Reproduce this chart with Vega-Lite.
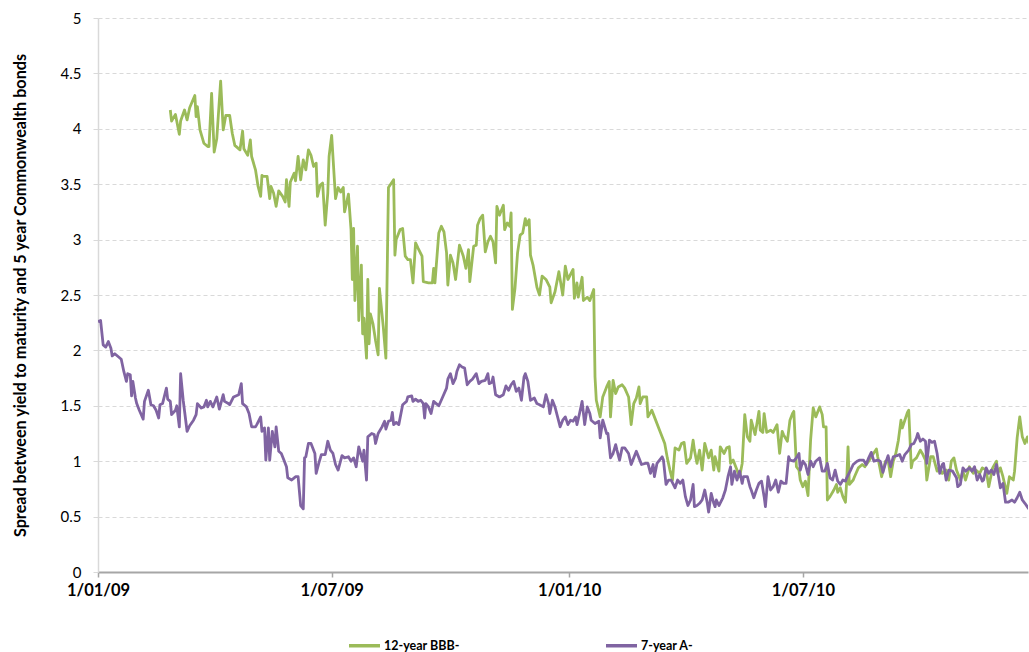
{
  "$schema": "https://vega.github.io/schema/vega-lite/v6.json",
  "width": 930,
  "height": 554,
  "autosize": {"type": "none"},
  "padding": {"left": 98, "top": 18, "right": 1, "bottom": 80},
  "background": "white",
  "config": {"view": {"stroke": null}, "font": "Lato"},
  "encoding": {
    "x": {
      "field": "d", "type": "temporal",
      "scale": {"type": "utc", "domain": [1230768000000, 1293010560000]},
      "axis": {
        "title": null,
        "values": [1230768000000, 1246406400000, 1262304000000, 1277942400000],
        "labelExpr": "utcFormat(datum.value, '%-d/%m/%y')",
        "labelFont": "Lato", "labelFontSize": 16.5, "labelFontWeight": "bold", "labelColor": "#000",
        "labelPadding": 5, "labelFlush": false, "labelOverlap": false,
        "tickSize": 5, "tickColor": "#a6a6a6", "tickWidth": 1.5,
        "domainColor": "#a6a6a6", "domainWidth": 2, "grid": false
      }
    },
    "y": {
      "field": "v", "type": "quantitative",
      "scale": {"domain": [0, 5], "nice": false, "zero": true},
      "axis": {
        "title": "Spread between yield to maturity and 5 year Commonwealth bonds",
        "titleFont": "Lato", "titleFontSize": 16.2, "titleFontWeight": "bold", "titleColor": "#000",
        "titlePadding": 32,
        "values": [0, 0.5, 1, 1.5, 2, 2.5, 3, 3.5, 4, 4.5, 5],
        "format": "~g",
        "labelFont": "Lato", "labelFontSize": 15, "labelColor": "#000", "labelPadding": 12,
        "tickSize": 5, "tickColor": "#d9d9d9",
        "domainColor": "#d9d9d9", "domainWidth": 1.5,
        "grid": true, "gridColor": "#d9d9d9", "gridDash": [4, 3], "gridWidth": 1
      }
    }
  },
  "layer": [
    {
      "data": {"values": [
        {"d":"2009-02-26","v":4.17},{"d":"2009-02-27","v":4.07},{"d":"2009-03-02","v":4.13},{"d":"2009-03-05","v":3.95},{"d":"2009-03-06","v":4.07},{"d":"2009-03-09","v":4.17},{"d":"2009-03-11","v":4.08},{"d":"2009-03-13","v":4.19},{"d":"2009-03-17","v":4.30},{"d":"2009-03-18","v":4.11},{"d":"2009-03-19","v":4.20},{"d":"2009-03-21","v":3.99},{"d":"2009-03-24","v":3.87},{"d":"2009-03-27","v":3.84},{"d":"2009-03-28","v":3.84},{"d":"2009-03-30","v":4.32},{"d":"2009-04-01","v":3.79},{"d":"2009-04-03","v":3.91},{"d":"2009-04-06","v":4.43},{"d":"2009-04-08","v":3.99},{"d":"2009-04-10","v":4.12},{"d":"2009-04-13","v":4.12},{"d":"2009-04-15","v":3.96},{"d":"2009-04-17","v":3.85},{"d":"2009-04-21","v":3.81},{"d":"2009-04-23","v":3.98},{"d":"2009-04-24","v":3.82},{"d":"2009-04-27","v":3.76},{"d":"2009-04-29","v":3.90},{"d":"2009-04-30","v":3.75},{"d":"2009-05-03","v":3.63},{"d":"2009-05-05","v":3.48},{"d":"2009-05-07","v":3.39},{"d":"2009-05-08","v":3.58},{"d":"2009-05-09","v":3.57},{"d":"2009-05-12","v":3.57},{"d":"2009-05-14","v":3.37},{"d":"2009-05-15","v":3.48},{"d":"2009-05-17","v":3.42},{"d":"2009-05-19","v":3.30},{"d":"2009-05-21","v":3.44},{"d":"2009-05-24","v":3.39},{"d":"2009-05-26","v":3.34},{"d":"2009-05-27","v":3.54},{"d":"2009-05-29","v":3.30},{"d":"2009-05-30","v":3.52},{"d":"2009-06-02","v":3.60},{"d":"2009-06-03","v":3.53},{"d":"2009-06-05","v":3.75},{"d":"2009-06-07","v":3.54},{"d":"2009-06-09","v":3.72},{"d":"2009-06-11","v":3.63},{"d":"2009-06-13","v":3.81},{"d":"2009-06-15","v":3.76},{"d":"2009-06-17","v":3.66},{"d":"2009-06-19","v":3.69},{"d":"2009-06-20","v":3.39},{"d":"2009-06-22","v":3.49},{"d":"2009-06-24","v":3.51},{"d":"2009-06-26","v":3.13},{"d":"2009-06-28","v":3.42},{"d":"2009-06-29","v":3.75},{"d":"2009-07-01","v":3.94},{"d":"2009-07-04","v":3.37},{"d":"2009-07-06","v":3.47},{"d":"2009-07-08","v":3.43},{"d":"2009-07-10","v":3.47},{"d":"2009-07-11","v":3.25},{"d":"2009-07-14","v":3.41},{"d":"2009-07-16","v":3.09},{"d":"2009-07-17","v":2.64},{"d":"2009-07-18","v":3.10},{"d":"2009-07-19","v":2.45},{"d":"2009-07-21","v":2.94},{"d":"2009-07-22","v":2.27},{"d":"2009-07-24","v":2.77},{"d":"2009-07-25","v":2.15},{"d":"2009-07-26","v":2.29},{"d":"2009-07-28","v":1.93},{"d":"2009-07-29","v":2.64},{"d":"2009-07-30","v":2.06},{"d":"2009-07-31","v":2.33},{"d":"2009-08-02","v":2.24},{"d":"2009-08-04","v":2.09},{"d":"2009-08-06","v":1.96},{"d":"2009-08-07","v":2.56},{"d":"2009-08-10","v":2.21},{"d":"2009-08-12","v":1.93},{"d":"2009-08-14","v":3.47},{"d":"2009-08-18","v":3.54},{"d":"2009-08-19","v":2.86},{"d":"2009-08-20","v":3.00},{"d":"2009-08-23","v":3.09},{"d":"2009-08-25","v":3.10},{"d":"2009-08-27","v":2.85},{"d":"2009-08-29","v":2.82},{"d":"2009-08-31","v":2.82},{"d":"2009-09-02","v":2.61},{"d":"2009-09-04","v":2.97},{"d":"2009-09-06","v":2.92},{"d":"2009-09-09","v":2.85},{"d":"2009-09-10","v":2.62},{"d":"2009-09-14","v":2.61},{"d":"2009-09-17","v":2.61},{"d":"2009-09-18","v":2.74},{"d":"2009-09-19","v":2.61},{"d":"2009-09-22","v":3.06},{"d":"2009-09-24","v":3.12},{"d":"2009-09-26","v":3.07},{"d":"2009-09-28","v":2.88},{"d":"2009-09-29","v":2.59},{"d":"2009-10-01","v":2.86},{"d":"2009-10-03","v":2.79},{"d":"2009-10-05","v":2.64},{"d":"2009-10-08","v":2.95},{"d":"2009-10-11","v":2.85},{"d":"2009-10-13","v":2.74},{"d":"2009-10-15","v":2.91},{"d":"2009-10-16","v":2.62},{"d":"2009-10-19","v":2.94},{"d":"2009-10-21","v":2.95},{"d":"2009-10-22","v":3.13},{"d":"2009-10-24","v":3.19},{"d":"2009-10-26","v":3.22},{"d":"2009-10-28","v":2.89},{"d":"2009-10-30","v":2.98},{"d":"2009-11-01","v":3.03},{"d":"2009-11-03","v":2.98},{"d":"2009-11-05","v":2.79},{"d":"2009-11-06","v":3.30},{"d":"2009-11-08","v":3.22},{"d":"2009-11-11","v":3.31},{"d":"2009-11-12","v":3.09},{"d":"2009-11-14","v":3.15},{"d":"2009-11-16","v":3.12},{"d":"2009-11-17","v":3.24},{"d":"2009-11-18","v":2.37},{"d":"2009-11-20","v":2.56},{"d":"2009-11-22","v":2.88},{"d":"2009-11-24","v":3.04},{"d":"2009-11-26","v":3.06},{"d":"2009-11-28","v":3.19},{"d":"2009-11-29","v":3.13},{"d":"2009-12-01","v":3.18},{"d":"2009-12-02","v":2.86},{"d":"2009-12-04","v":2.77},{"d":"2009-12-07","v":2.57},{"d":"2009-12-09","v":2.50},{"d":"2009-12-11","v":2.67},{"d":"2009-12-14","v":2.64},{"d":"2009-12-17","v":2.57},{"d":"2009-12-18","v":2.43},{"d":"2009-12-21","v":2.53},{"d":"2009-12-24","v":2.71},{"d":"2009-12-27","v":2.50},{"d":"2009-12-29","v":2.76},{"d":"2009-12-31","v":2.64},{"d":"2010-01-04","v":2.73},{"d":"2010-01-05","v":2.47},{"d":"2010-01-07","v":2.61},{"d":"2010-01-08","v":2.48},{"d":"2010-01-11","v":2.66},{"d":"2010-01-12","v":2.45},{"d":"2010-01-15","v":2.48},{"d":"2010-01-17","v":2.45},{"d":"2010-01-20","v":2.55},{"d":"2010-01-21","v":1.76},{"d":"2010-01-22","v":1.55},{"d":"2010-01-25","v":1.40},{"d":"2010-01-27","v":1.58},{"d":"2010-01-30","v":1.67},{"d":"2010-02-01","v":1.72},{"d":"2010-02-02","v":1.40},{"d":"2010-02-04","v":1.73},{"d":"2010-02-06","v":1.61},{"d":"2010-02-08","v":1.67},{"d":"2010-02-11","v":1.69},{"d":"2010-02-13","v":1.66},{"d":"2010-02-16","v":1.58},{"d":"2010-02-18","v":1.33},{"d":"2010-02-20","v":1.52},{"d":"2010-02-22","v":1.57},{"d":"2010-02-24","v":1.67},{"d":"2010-02-25","v":1.52},{"d":"2010-02-27","v":1.58},{"d":"2010-03-02","v":1.58},{"d":"2010-03-03","v":1.40},{"d":"2010-03-06","v":1.46},{"d":"2010-03-08","v":1.40},{"d":"2010-03-12","v":1.28},{"d":"2010-03-16","v":1.16},{"d":"2010-03-18","v":1.03},{"d":"2010-03-20","v":0.92},{"d":"2010-03-22","v":0.83},{"d":"2010-03-24","v":1.12},{"d":"2010-03-27","v":1.10},{"d":"2010-03-29","v":1.16},{"d":"2010-03-31","v":1.17},{"d":"2010-04-02","v":0.98},{"d":"2010-04-05","v":1.03},{"d":"2010-04-07","v":1.19},{"d":"2010-04-08","v":1.10},{"d":"2010-04-10","v":0.98},{"d":"2010-04-12","v":1.10},{"d":"2010-04-14","v":0.92},{"d":"2010-04-16","v":1.16},{"d":"2010-04-19","v":1.03},{"d":"2010-04-21","v":1.10},{"d":"2010-04-23","v":0.92},{"d":"2010-04-24","v":1.04},{"d":"2010-04-27","v":0.91},{"d":"2010-04-28","v":1.13},{"d":"2010-05-01","v":1.07},{"d":"2010-05-03","v":1.12},{"d":"2010-05-05","v":1.13},{"d":"2010-05-06","v":0.98},{"d":"2010-05-08","v":1.01},{"d":"2010-05-10","v":0.95},{"d":"2010-05-12","v":0.89},{"d":"2010-05-13","v":0.86},{"d":"2010-05-15","v":0.98},{"d":"2010-05-17","v":1.42},{"d":"2010-05-19","v":1.22},{"d":"2010-05-21","v":1.18},{"d":"2010-05-22","v":1.37},{"d":"2010-05-25","v":1.24},{"d":"2010-05-28","v":1.45},{"d":"2010-05-29","v":1.28},{"d":"2010-05-31","v":1.26},{"d":"2010-06-01","v":1.43},{"d":"2010-06-03","v":1.26},{"d":"2010-06-06","v":1.28},{"d":"2010-06-08","v":1.26},{"d":"2010-06-11","v":1.33},{"d":"2010-06-13","v":1.07},{"d":"2010-06-15","v":1.27},{"d":"2010-06-16","v":1.24},{"d":"2010-06-19","v":1.18},{"d":"2010-06-21","v":1.37},{"d":"2010-06-23","v":1.43},{"d":"2010-06-24","v":1.45},{"d":"2010-06-26","v":0.95},{"d":"2010-06-28","v":0.92},{"d":"2010-06-29","v":0.83},{"d":"2010-07-01","v":0.77},{"d":"2010-07-03","v":0.82},{"d":"2010-07-05","v":0.69},{"d":"2010-07-07","v":1.19},{"d":"2010-07-09","v":1.48},{"d":"2010-07-11","v":1.40},{"d":"2010-07-14","v":1.49},{"d":"2010-07-16","v":1.42},{"d":"2010-07-17","v":1.31},{"d":"2010-07-19","v":1.31},{"d":"2010-07-20","v":0.65},{"d":"2010-07-22","v":0.68},{"d":"2010-07-25","v":0.74},{"d":"2010-07-27","v":0.79},{"d":"2010-07-28","v":0.72},{"d":"2010-07-30","v":0.76},{"d":"2010-08-01","v":0.68},{"d":"2010-08-03","v":0.63},{"d":"2010-08-04","v":0.83},{"d":"2010-08-05","v":1.13},{"d":"2010-08-06","v":0.79},{"d":"2010-08-09","v":0.83},{"d":"2010-08-10","v":0.86},{"d":"2010-08-13","v":0.94},{"d":"2010-08-16","v":0.97},{"d":"2010-08-18","v":0.95},{"d":"2010-08-21","v":1.00},{"d":"2010-08-23","v":1.04},{"d":"2010-08-27","v":1.11},{"d":"2010-08-28","v":1.04},{"d":"2010-08-31","v":0.86},{"d":"2010-09-03","v":1.00},{"d":"2010-09-05","v":1.01},{"d":"2010-09-07","v":0.86},{"d":"2010-09-09","v":1.00},{"d":"2010-09-11","v":1.07},{"d":"2010-09-13","v":1.19},{"d":"2010-09-15","v":1.37},{"d":"2010-09-16","v":1.30},{"d":"2010-09-18","v":1.37},{"d":"2010-09-20","v":1.44},{"d":"2010-09-21","v":1.46},{"d":"2010-09-23","v":0.94},{"d":"2010-09-24","v":1.00},{"d":"2010-09-27","v":1.03},{"d":"2010-09-30","v":1.10},{"d":"2010-10-02","v":1.06},{"d":"2010-10-04","v":1.01},{"d":"2010-10-05","v":0.83},{"d":"2010-10-08","v":1.04},{"d":"2010-10-10","v":1.04},{"d":"2010-10-13","v":0.91},{"d":"2010-10-15","v":0.95},{"d":"2010-10-17","v":0.89},{"d":"2010-10-20","v":0.92},{"d":"2010-10-22","v":0.83},{"d":"2010-10-24","v":1.00},{"d":"2010-10-26","v":1.03},{"d":"2010-10-28","v":0.92},{"d":"2010-10-31","v":0.83},{"d":"2010-11-02","v":0.91},{"d":"2010-11-04","v":0.83},{"d":"2010-11-07","v":0.95},{"d":"2010-11-10","v":0.89},{"d":"2010-11-12","v":0.92},{"d":"2010-11-15","v":0.89},{"d":"2010-11-17","v":0.94},{"d":"2010-11-20","v":0.92},{"d":"2010-11-22","v":0.77},{"d":"2010-11-25","v":0.94},{"d":"2010-11-28","v":1.00},{"d":"2010-11-29","v":0.89},{"d":"2010-12-01","v":0.94},{"d":"2010-12-03","v":0.86},{"d":"2010-12-06","v":0.71},{"d":"2010-12-08","v":0.86},{"d":"2010-12-11","v":0.83},{"d":"2010-12-12","v":0.91},{"d":"2010-12-14","v":1.21},{"d":"2010-12-16","v":1.40},{"d":"2010-12-18","v":1.22},{"d":"2010-12-20","v":1.16},{"d":"2010-12-22","v":1.22},{"d":"2010-12-23","v":1.16}
      ]},
      "mark": {"type": "line", "strokeWidth": 2.8, "clip": true, "strokeJoin": "round"},
      "encoding": {
        "color": {
          "datum": "12-year BBB-", "type": "nominal",
          "scale": {"domain": ["12-year BBB-", "7-year A-"], "range": ["#9BBB59", "#8064A2"]},
          "legend": {
            "title": null, "orient": "none", "legendX": 249, "legendY": 610, "direction": "horizontal",
            "padding": 0, "symbolType": "stroke", "symbolStrokeWidth": 3.5, "symbolSize": 961,
            "labelFont": "Lato", "labelFontSize": 12.5, "labelFontWeight": "bold", "labelColor": "#000",
            "labelOffset": 2, "columnPadding": 139
          }
        }
      }
    },
    {
      "data": {"values": [
        {"d":"2009-01-01","v":2.26},{"d":"2009-01-03","v":2.27},{"d":"2009-01-05","v":2.05},{"d":"2009-01-07","v":2.03},{"d":"2009-01-09","v":2.08},{"d":"2009-01-11","v":2.02},{"d":"2009-01-12","v":1.95},{"d":"2009-01-14","v":1.97},{"d":"2009-01-17","v":1.94},{"d":"2009-01-19","v":1.92},{"d":"2009-01-21","v":1.81},{"d":"2009-01-23","v":1.72},{"d":"2009-01-24","v":1.79},{"d":"2009-01-26","v":1.78},{"d":"2009-01-27","v":1.59},{"d":"2009-01-28","v":1.72},{"d":"2009-01-30","v":1.57},{"d":"2009-01-31","v":1.52},{"d":"2009-02-02","v":1.46},{"d":"2009-02-05","v":1.38},{"d":"2009-02-06","v":1.54},{"d":"2009-02-09","v":1.64},{"d":"2009-02-11","v":1.51},{"d":"2009-02-13","v":1.50},{"d":"2009-02-15","v":1.46},{"d":"2009-02-17","v":1.39},{"d":"2009-02-18","v":1.51},{"d":"2009-02-20","v":1.52},{"d":"2009-02-23","v":1.66},{"d":"2009-02-24","v":1.56},{"d":"2009-02-26","v":1.54},{"d":"2009-02-27","v":1.42},{"d":"2009-03-02","v":1.46},{"d":"2009-03-03","v":1.50},{"d":"2009-03-05","v":1.31},{"d":"2009-03-06","v":1.79},{"d":"2009-03-08","v":1.55},{"d":"2009-03-11","v":1.27},{"d":"2009-03-13","v":1.32},{"d":"2009-03-16","v":1.37},{"d":"2009-03-18","v":1.42},{"d":"2009-03-19","v":1.52},{"d":"2009-03-22","v":1.48},{"d":"2009-03-24","v":1.49},{"d":"2009-03-26","v":1.55},{"d":"2009-03-27","v":1.49},{"d":"2009-03-29","v":1.54},{"d":"2009-03-31","v":1.49},{"d":"2009-04-03","v":1.58},{"d":"2009-04-05","v":1.47},{"d":"2009-04-08","v":1.60},{"d":"2009-04-09","v":1.54},{"d":"2009-04-12","v":1.52},{"d":"2009-04-13","v":1.51},{"d":"2009-04-16","v":1.58},{"d":"2009-04-20","v":1.60},{"d":"2009-04-22","v":1.70},{"d":"2009-04-23","v":1.52},{"d":"2009-04-26","v":1.49},{"d":"2009-04-28","v":1.43},{"d":"2009-04-30","v":1.31},{"d":"2009-05-03","v":1.31},{"d":"2009-05-04","v":1.33},{"d":"2009-05-07","v":1.40},{"d":"2009-05-08","v":1.27},{"d":"2009-05-10","v":1.30},{"d":"2009-05-11","v":1.01},{"d":"2009-05-13","v":1.30},{"d":"2009-05-14","v":1.01},{"d":"2009-05-16","v":1.27},{"d":"2009-05-18","v":1.13},{"d":"2009-05-19","v":1.31},{"d":"2009-05-21","v":1.09},{"d":"2009-05-23","v":1.07},{"d":"2009-05-25","v":1.01},{"d":"2009-05-27","v":0.95},{"d":"2009-05-28","v":0.85},{"d":"2009-05-31","v":0.83},{"d":"2009-06-02","v":0.85},{"d":"2009-06-03","v":0.86},{"d":"2009-06-05","v":0.86},{"d":"2009-06-07","v":0.60},{"d":"2009-06-09","v":0.57},{"d":"2009-06-10","v":1.03},{"d":"2009-06-11","v":1.04},{"d":"2009-06-13","v":1.16},{"d":"2009-06-15","v":1.16},{"d":"2009-06-18","v":1.07},{"d":"2009-06-19","v":0.89},{"d":"2009-06-21","v":0.98},{"d":"2009-06-23","v":1.06},{"d":"2009-06-26","v":1.06},{"d":"2009-06-28","v":1.18},{"d":"2009-06-30","v":1.10},{"d":"2009-07-02","v":1.07},{"d":"2009-07-04","v":0.97},{"d":"2009-07-06","v":0.92},{"d":"2009-07-09","v":1.05},{"d":"2009-07-11","v":1.03},{"d":"2009-07-14","v":1.04},{"d":"2009-07-16","v":1.00},{"d":"2009-07-18","v":1.03},{"d":"2009-07-20","v":0.95},{"d":"2009-07-22","v":1.13},{"d":"2009-07-25","v":1.00},{"d":"2009-07-26","v":1.10},{"d":"2009-07-28","v":0.83},{"d":"2009-07-29","v":1.22},{"d":"2009-08-01","v":1.25},{"d":"2009-08-03","v":1.24},{"d":"2009-08-04","v":1.16},{"d":"2009-08-06","v":1.25},{"d":"2009-08-09","v":1.31},{"d":"2009-08-11","v":1.36},{"d":"2009-08-12","v":1.29},{"d":"2009-08-14","v":1.36},{"d":"2009-08-16","v":1.37},{"d":"2009-08-17","v":1.44},{"d":"2009-08-18","v":1.33},{"d":"2009-08-20","v":1.35},{"d":"2009-08-22","v":1.33},{"d":"2009-08-25","v":1.51},{"d":"2009-08-28","v":1.54},{"d":"2009-08-29","v":1.58},{"d":"2009-09-01","v":1.59},{"d":"2009-09-02","v":1.54},{"d":"2009-09-04","v":1.56},{"d":"2009-09-06","v":1.54},{"d":"2009-09-08","v":1.55},{"d":"2009-09-10","v":1.52},{"d":"2009-09-11","v":1.39},{"d":"2009-09-12","v":1.52},{"d":"2009-09-14","v":1.49},{"d":"2009-09-16","v":1.43},{"d":"2009-09-18","v":1.54},{"d":"2009-09-20","v":1.52},{"d":"2009-09-22","v":1.50},{"d":"2009-09-25","v":1.58},{"d":"2009-09-28","v":1.66},{"d":"2009-09-29","v":1.74},{"d":"2009-10-01","v":1.79},{"d":"2009-10-03","v":1.70},{"d":"2009-10-05","v":1.75},{"d":"2009-10-06","v":1.81},{"d":"2009-10-08","v":1.87},{"d":"2009-10-10","v":1.85},{"d":"2009-10-12","v":1.84},{"d":"2009-10-14","v":1.69},{"d":"2009-10-16","v":1.72},{"d":"2009-10-18","v":1.74},{"d":"2009-10-21","v":1.79},{"d":"2009-10-23","v":1.70},{"d":"2009-10-25","v":1.72},{"d":"2009-10-28","v":1.73},{"d":"2009-10-30","v":1.79},{"d":"2009-10-31","v":1.70},{"d":"2009-11-02","v":1.71},{"d":"2009-11-03","v":1.76},{"d":"2009-11-05","v":1.60},{"d":"2009-11-08","v":1.58},{"d":"2009-11-11","v":1.60},{"d":"2009-11-13","v":1.68},{"d":"2009-11-15","v":1.64},{"d":"2009-11-17","v":1.69},{"d":"2009-11-19","v":1.72},{"d":"2009-11-21","v":1.63},{"d":"2009-11-23","v":1.66},{"d":"2009-11-25","v":1.55},{"d":"2009-11-27","v":1.76},{"d":"2009-11-28","v":1.79},{"d":"2009-11-30","v":1.72},{"d":"2009-12-02","v":1.55},{"d":"2009-12-05","v":1.57},{"d":"2009-12-07","v":1.52},{"d":"2009-12-09","v":1.51},{"d":"2009-12-12","v":1.49},{"d":"2009-12-14","v":1.60},{"d":"2009-12-16","v":1.52},{"d":"2009-12-17","v":1.43},{"d":"2009-12-19","v":1.55},{"d":"2009-12-21","v":1.49},{"d":"2009-12-23","v":1.40},{"d":"2009-12-25","v":1.31},{"d":"2009-12-27","v":1.37},{"d":"2009-12-29","v":1.40},{"d":"2009-12-31","v":1.33},{"d":"2010-01-02","v":1.37},{"d":"2010-01-04","v":1.36},{"d":"2010-01-06","v":1.40},{"d":"2010-01-07","v":1.33},{"d":"2010-01-09","v":1.43},{"d":"2010-01-11","v":1.54},{"d":"2010-01-13","v":1.33},{"d":"2010-01-15","v":1.49},{"d":"2010-01-17","v":1.43},{"d":"2010-01-18","v":1.37},{"d":"2010-01-21","v":1.34},{"d":"2010-01-24","v":1.36},{"d":"2010-01-25","v":1.21},{"d":"2010-01-27","v":1.37},{"d":"2010-01-30","v":1.25},{"d":"2010-01-31","v":1.25},{"d":"2010-02-02","v":1.03},{"d":"2010-02-04","v":1.07},{"d":"2010-02-06","v":1.15},{"d":"2010-02-07","v":1.10},{"d":"2010-02-09","v":1.01},{"d":"2010-02-11","v":1.12},{"d":"2010-02-13","v":1.12},{"d":"2010-02-16","v":1.07},{"d":"2010-02-18","v":0.97},{"d":"2010-02-20","v":1.03},{"d":"2010-02-22","v":1.09},{"d":"2010-02-24","v":1.03},{"d":"2010-02-26","v":0.97},{"d":"2010-03-01","v":0.98},{"d":"2010-03-03","v":0.98},{"d":"2010-03-05","v":0.89},{"d":"2010-03-07","v":0.97},{"d":"2010-03-08","v":0.86},{"d":"2010-03-10","v":0.98},{"d":"2010-03-12","v":1.01},{"d":"2010-03-14","v":1.04},{"d":"2010-03-15","v":1.01},{"d":"2010-03-17","v":0.79},{"d":"2010-03-19","v":0.83},{"d":"2010-03-21","v":0.83},{"d":"2010-03-24","v":0.76},{"d":"2010-03-26","v":0.83},{"d":"2010-03-28","v":0.80},{"d":"2010-03-30","v":0.83},{"d":"2010-04-01","v":0.68},{"d":"2010-04-03","v":0.60},{"d":"2010-04-05","v":0.65},{"d":"2010-04-07","v":0.79},{"d":"2010-04-08","v":0.59},{"d":"2010-04-10","v":0.60},{"d":"2010-04-12","v":0.62},{"d":"2010-04-14","v":0.65},{"d":"2010-04-16","v":0.74},{"d":"2010-04-18","v":0.62},{"d":"2010-04-19","v":0.54},{"d":"2010-04-21","v":0.71},{"d":"2010-04-23","v":0.62},{"d":"2010-04-24","v":0.59},{"d":"2010-04-25","v":0.65},{"d":"2010-04-27","v":0.60},{"d":"2010-04-30","v":0.67},{"d":"2010-05-02","v":0.74},{"d":"2010-05-04","v":0.86},{"d":"2010-05-06","v":0.95},{"d":"2010-05-07","v":0.79},{"d":"2010-05-09","v":0.91},{"d":"2010-05-11","v":0.83},{"d":"2010-05-13","v":0.91},{"d":"2010-05-15","v":0.80},{"d":"2010-05-16","v":0.86},{"d":"2010-05-19","v":0.86},{"d":"2010-05-21","v":0.77},{"d":"2010-05-22","v":0.74},{"d":"2010-05-24","v":0.67},{"d":"2010-05-26","v":0.74},{"d":"2010-05-28","v":0.80},{"d":"2010-05-30","v":0.82},{"d":"2010-06-01","v":0.68},{"d":"2010-06-02","v":0.59},{"d":"2010-06-04","v":0.86},{"d":"2010-06-06","v":0.74},{"d":"2010-06-08","v":0.77},{"d":"2010-06-10","v":0.83},{"d":"2010-06-12","v":0.72},{"d":"2010-06-14","v":0.82},{"d":"2010-06-16","v":0.80},{"d":"2010-06-18","v":0.80},{"d":"2010-06-20","v":1.04},{"d":"2010-06-21","v":1.01},{"d":"2010-06-24","v":1.00},{"d":"2010-06-26","v":1.03},{"d":"2010-06-28","v":1.07},{"d":"2010-06-29","v":0.92},{"d":"2010-07-01","v":1.00},{"d":"2010-07-03","v":0.97},{"d":"2010-07-05","v":0.88},{"d":"2010-07-07","v":1.00},{"d":"2010-07-09","v":0.95},{"d":"2010-07-11","v":1.00},{"d":"2010-07-14","v":1.03},{"d":"2010-07-16","v":0.91},{"d":"2010-07-18","v":0.91},{"d":"2010-07-20","v":0.98},{"d":"2010-07-22","v":0.85},{"d":"2010-07-24","v":0.83},{"d":"2010-07-26","v":0.92},{"d":"2010-07-28","v":0.82},{"d":"2010-07-30","v":0.79},{"d":"2010-08-01","v":0.83},{"d":"2010-08-03","v":0.82},{"d":"2010-08-04","v":0.85},{"d":"2010-08-07","v":0.92},{"d":"2010-08-09","v":0.97},{"d":"2010-08-12","v":1.00},{"d":"2010-08-14","v":1.01},{"d":"2010-08-17","v":1.01},{"d":"2010-08-19","v":0.97},{"d":"2010-08-21","v":1.03},{"d":"2010-08-23","v":1.08},{"d":"2010-08-25","v":1.00},{"d":"2010-08-28","v":1.01},{"d":"2010-08-30","v":1.00},{"d":"2010-09-01","v":0.90},{"d":"2010-09-03","v":0.98},{"d":"2010-09-05","v":1.05},{"d":"2010-09-07","v":0.95},{"d":"2010-09-09","v":1.04},{"d":"2010-09-12","v":1.05},{"d":"2010-09-14","v":1.06},{"d":"2010-09-16","v":1.00},{"d":"2010-09-18","v":1.06},{"d":"2010-09-21","v":1.10},{"d":"2010-09-23","v":1.15},{"d":"2010-09-25","v":1.16},{"d":"2010-09-27","v":1.21},{"d":"2010-09-28","v":1.25},{"d":"2010-09-30","v":1.18},{"d":"2010-10-02","v":1.20},{"d":"2010-10-04","v":1.18},{"d":"2010-10-05","v":0.98},{"d":"2010-10-07","v":1.19},{"d":"2010-10-09","v":1.17},{"d":"2010-10-11","v":1.18},{"d":"2010-10-13","v":1.07},{"d":"2010-10-15","v":0.89},{"d":"2010-10-17","v":0.97},{"d":"2010-10-18","v":0.98},{"d":"2010-10-20","v":0.83},{"d":"2010-10-22","v":0.92},{"d":"2010-10-25","v":0.91},{"d":"2010-10-28","v":0.85},{"d":"2010-10-29","v":0.77},{"d":"2010-10-31","v":0.79},{"d":"2010-11-02","v":0.94},{"d":"2010-11-04","v":0.91},{"d":"2010-11-07","v":0.94},{"d":"2010-11-09","v":0.91},{"d":"2010-11-11","v":0.95},{"d":"2010-11-13","v":0.83},{"d":"2010-11-15","v":0.88},{"d":"2010-11-17","v":0.82},{"d":"2010-11-18","v":0.83},{"d":"2010-11-20","v":0.94},{"d":"2010-11-22","v":0.89},{"d":"2010-11-24","v":0.92},{"d":"2010-11-26","v":0.88},{"d":"2010-11-28","v":0.97},{"d":"2010-11-30","v":0.83},{"d":"2010-12-01","v":0.76},{"d":"2010-12-03","v":0.80},{"d":"2010-12-05","v":0.63},{"d":"2010-12-07","v":0.63},{"d":"2010-12-10","v":0.65},{"d":"2010-12-12","v":0.63},{"d":"2010-12-14","v":0.67},{"d":"2010-12-16","v":0.72},{"d":"2010-12-18","v":0.65},{"d":"2010-12-20","v":0.62},{"d":"2010-12-23","v":0.57}
      ]},
      "mark": {"type": "line", "strokeWidth": 2.8, "clip": true, "strokeJoin": "round"},
      "encoding": {
        "color": {"datum": "7-year A-", "type": "nominal"}
      }
    }
  ]
}
